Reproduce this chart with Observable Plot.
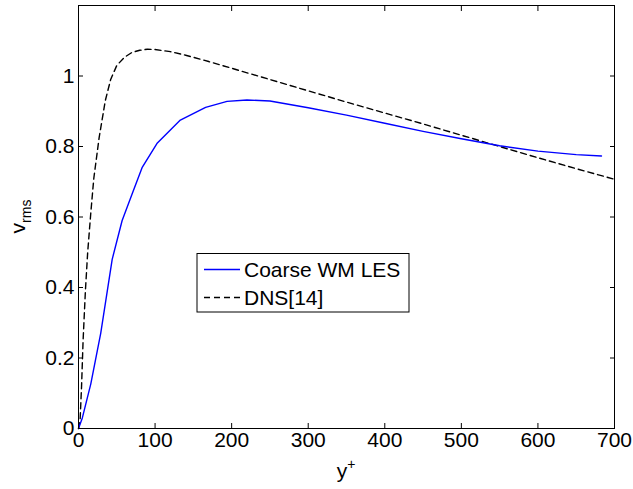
<!DOCTYPE html>
<html>
<head>
<meta charset="utf-8">
<script src="https://cdn.jsdelivr.net/npm/d3@7"></script>
<script src="https://cdn.jsdelivr.net/npm/@observablehq/plot@0.6"></script>
<style>
  body { margin: 0; background: #fff; }
  #chart svg { display: block; }
</style>
</head>
<body>
<div id="chart"></div>
<script>
// Coarse WM LES (blue solid)
const lesX = [0, 5, 16, 29, 44, 57, 70, 83, 103, 133, 166, 194, 220, 250, 300, 350, 400, 450, 500, 550, 600, 650, 683];
const lesY = [0, 0.03, 0.126, 0.27, 0.48, 0.59, 0.665, 0.74, 0.81, 0.875, 0.911, 0.928, 0.932, 0.929, 0.91, 0.889, 0.866, 0.843, 0.822, 0.802, 0.787, 0.777, 0.773];
// DNS[14] (black dashed)
const dnsX = [0, 2, 4, 6, 9, 12, 16, 20, 27, 35, 42, 50, 60, 70, 80, 90, 100, 120, 140, 170, 200, 250, 300, 350, 400, 450, 500, 550, 600, 650, 700];
const dnsY = [0, 0.02, 0.12, 0.25, 0.39, 0.5, 0.61, 0.71, 0.826, 0.93, 0.99, 1.03, 1.053, 1.067, 1.073, 1.076, 1.075, 1.069, 1.059, 1.041, 1.022, 0.99, 0.958, 0.926, 0.895, 0.864, 0.832, 0.8, 0.768, 0.737, 0.707];
const xTicks = [0, 100, 200, 300, 400, 500, 600, 700];
const yTicks = [0, 0.2, 0.4, 0.6, 0.8, 1];
const seriesNames = ["Coarse WM LES", "DNS[14]"];

const les = lesX.map((x, i) => ({x, y: lesY[i]}));
const dns = dnsX.map((x, i) => ({x, y: dnsY[i]}));

const fontFamily = "'Liberation Sans', Arial, Helvetica, sans-serif";

const W = 633, H = 489;
const mL = 78, mR = 19, mT = 5, mB = 61;

const plot = Plot.plot({
  width: W,
  height: H,
  marginLeft: mL,
  marginRight: mR,
  marginTop: mT,
  marginBottom: mB,
  style: {fontFamily, fontSize: "21px", color: "black", background: "white"},
  x: {domain: [0, 700]},
  y: {domain: [0, 1.2]},
  marks: [
    Plot.line(dns, {x: "x", y: "y", stroke: "black", strokeWidth: 1.4, strokeDasharray: "6,4"}),
    Plot.line(les, {x: "x", y: "y", stroke: "#0000ff", strokeWidth: 1.4}),
    Plot.frame({stroke: "black", strokeWidth: 1}),
    Plot.axisX({anchor: "bottom", ticks: xTicks, tickSize: -5, tickPadding: 9, label: null, tickFormat: d => String(d)}),
    Plot.axisX({anchor: "top", ticks: xTicks.slice(1, -1), tickSize: -5, label: null, tickFormat: () => ""}),
    Plot.axisY({anchor: "left", ticks: yTicks, tickSize: -5, tickPadding: 9, label: null, tickFormat: d => String(+d.toFixed(1))}),
    Plot.axisY({anchor: "right", ticks: yTicks.slice(1), tickSize: -5, label: null, tickFormat: () => ""})
  ]
});

document.getElementById("chart").appendChild(plot);

const svg = d3.select(plot);

// Y label v_rms
const yl = svg.append("text")
  .attr("transform", `translate(24.5, ${(mT + H - mB) / 2}) rotate(-90)`)
  .attr("text-anchor", "middle")
  .attr("font-family", fontFamily)
  .attr("font-size", 21)
  .attr("fill", "black");
yl.append("tspan").text("v");
yl.append("tspan").attr("font-size", 14).attr("dy", 6).text("rms");

// X label y+
const xl = svg.append("text")
  .attr("x", (mL + W - mR) / 2)
  .attr("y", 478)
  .attr("text-anchor", "middle")
  .attr("font-family", fontFamily)
  .attr("font-size", 21)
  .attr("fill", "black");
xl.append("tspan").text("y");
xl.append("tspan").attr("font-size", 14).attr("dy", -9).text("+");

// Legend
const lg = svg.append("g").attr("font-family", fontFamily).attr("font-size", 21).attr("text-anchor", "start");
lg.append("rect").attr("x", 197).attr("y", 253.5).attr("width", 212).attr("height", 58.5)
  .attr("fill", "white").attr("stroke", "black").attr("stroke-width", 1);
lg.append("line").attr("x1", 204).attr("x2", 240).attr("y1", 269.5).attr("y2", 269.5)
  .attr("stroke", "#0000ff").attr("stroke-width", 1.4);
lg.append("text").attr("x", 244).attr("y", 277).attr("fill", "black").text(seriesNames[0]);
lg.append("line").attr("x1", 204).attr("x2", 240).attr("y1", 297.5).attr("y2", 297.5)
  .attr("stroke", "black").attr("stroke-width", 1.4).attr("stroke-dasharray", "6,4");
lg.append("text").attr("x", 244).attr("y", 305).attr("fill", "black").text(seriesNames[1]);
</script>
</body>
</html>
